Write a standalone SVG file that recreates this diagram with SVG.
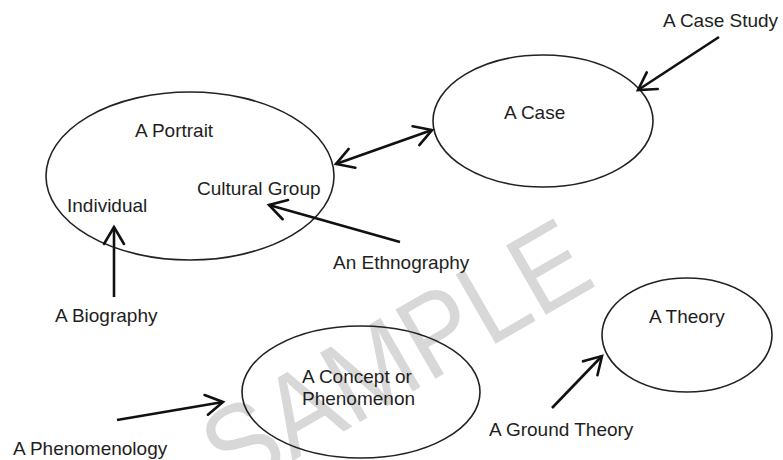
<svg xmlns="http://www.w3.org/2000/svg" width="783" height="460" viewBox="0 0 783 460">
<style>
.n{fill:none;stroke:#222;stroke-width:1.6}
.t{font-family:"Liberation Sans",Arial,sans-serif;font-size:19px;fill:#1e1e1e}
.c{fill:none;stroke:#111;stroke-width:2.6}
.wm{font-family:"Liberation Sans",Arial,sans-serif;font-size:116px;fill:#d8d8d8}
</style>
<defs>
<marker id="ah" viewBox="-20 -12 24 24" markerWidth="24" markerHeight="24" refX="0" refY="0" orient="auto-start-reverse" markerUnits="userSpaceOnUse">
<path d="M-17,-10 L0,0 L-17,10" fill="none" stroke="#111" stroke-width="2.6" stroke-linecap="round" stroke-linejoin="miter"/>
</marker>
</defs>
<rect width="783" height="460" fill="#fff"/>
<text class="wm" transform="translate(232,496) rotate(-30) scale(0.9,1)">SAMPLE</text>
<g id="portrait">
<ellipse class="n" cx="190" cy="176" rx="144" ry="84"/>
<text class="t" x="135" y="137">A Portrait</text>
<text class="t" x="197" y="195">Cultural Group</text>
<text class="t" x="67" y="212">Individual</text>
</g>
<g id="case">
<ellipse class="n" cx="543" cy="121" rx="110" ry="66"/>
<text class="t" x="504" y="119">A Case</text>
</g>
<g id="concept">
<ellipse class="n" cx="361" cy="392" rx="119" ry="66"/>
<text class="t" x="302" y="383">A Concept or</text>
<text class="t" x="302" y="405">Phenomenon</text>
</g>
<g id="theory">
<ellipse class="n" cx="687" cy="335" rx="85" ry="57"/>
<text class="t" x="649" y="323">A Theory</text>
</g>
<g id="case-study"><text class="t" x="663" y="27">A Case Study</text></g>
<g id="ethnography"><text class="t" x="333" y="269">An Ethnography</text></g>
<g id="biography"><text class="t" x="55" y="322">A Biography</text></g>
<g id="phenomenology"><text class="t" x="13" y="455">A Phenomenology</text></g>
<g id="ground-theory"><text class="t" x="489" y="436">A Ground Theory</text></g>
<g id="connectors">
<line class="c" x1="719" y1="37" x2="638" y2="90" marker-end="url(#ah)"/>
<line class="c" x1="336" y1="164" x2="432" y2="130" marker-start="url(#ah)" marker-end="url(#ah)"/>
<line class="c" x1="400" y1="242" x2="269" y2="205" marker-end="url(#ah)"/>
<line class="c" x1="114" y1="297" x2="114" y2="227" marker-end="url(#ah)"/>
<line class="c" x1="117" y1="420" x2="223" y2="402" marker-end="url(#ah)"/>
<line class="c" x1="552" y1="408" x2="602" y2="356" marker-end="url(#ah)"/>
</g>
</svg>
